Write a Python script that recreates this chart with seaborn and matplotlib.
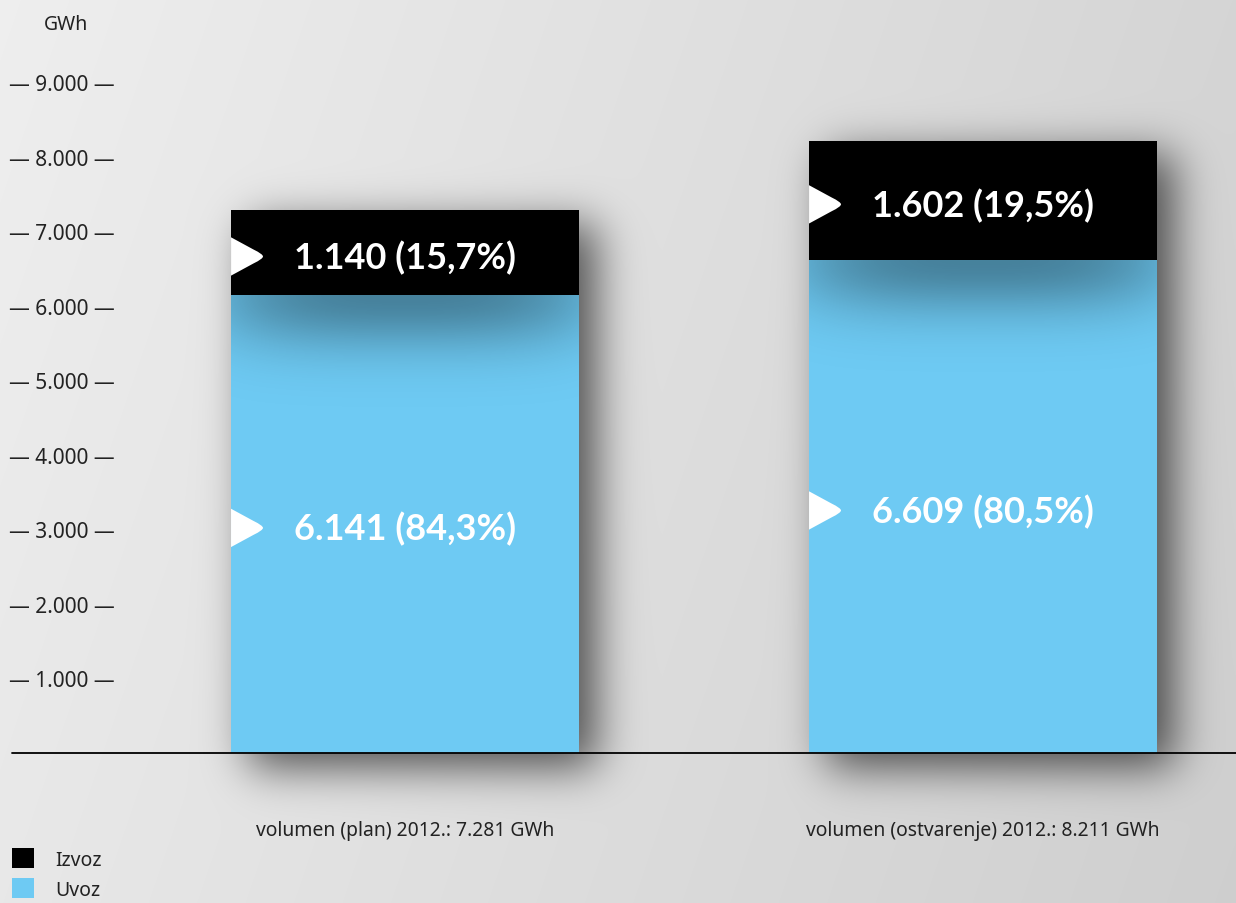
import matplotlib
matplotlib.use("Agg")
import matplotlib.pyplot as plt
from matplotlib.path import Path
import numpy as np
import pandas as pd
import seaborn as sns

# ── Data ──────────────────────────────────────────────────────────────────────
categories = ["plan", "ostvarenje"]
uvoz = [6141, 6609]
izvoz = [1140, 1602]
y_ticks = [1000, 2000, 3000, 4000, 5000, 6000, 7000, 8000, 9000]
legend_labels = ["Izvoz", "Uvoz"]

BLUE = "#6ecaf3"
BAR_W = 0.602
W, H = 1236, 904
Y_TOP = 10113
X_LIM = (-0.7007, 1.4377)


def fmt(v):
    return f"{v:,}".replace(",", ".")


def pct(v, t):
    return f"{100 * v / t:.1f}".replace(".", ",")


totals = [u + i for u, i in zip(uvoz, izvoz)]
x_labels = [f"volumen ({c}) 2012.: {fmt(t)} GWh" for c, t in zip(categories, totals)]
df = pd.DataFrame({"kat": x_labels, "total": totals, "uvoz": uvoz})

sns.set_theme(style="white")
plt.rcParams["font.family"] = ["Noto Sans", "DejaVu Sans"]

fig = plt.figure(figsize=(W / 100, H / 100), dpi=100)
ax = fig.add_axes([0, 150 / H, 1, 754 / H])
ax.set_facecolor("none")

# stacked bars: total in black, uvoz in blue on top of it
sns.barplot(data=df, x="kat", y="total", color="black", width=BAR_W, saturation=1,
            label=legend_labels[0], edgecolor="none", linewidth=0, ax=ax)
sns.barplot(data=df, x="kat", y="uvoz", color=BLUE, width=BAR_W, saturation=1,
            label=legend_labels[1], edgecolor="none", linewidth=0, ax=ax)
handles, labels = ax.get_legend_handles_labels()
if ax.get_legend() is not None:
    ax.get_legend().remove()

for s in ax.spines.values():
    s.set_visible(False)
ax.grid(False)
ax.set_xlabel("")
ax.set_ylabel("")
ax.set_yticks(y_ticks, [f"— {fmt(v)} —" for v in y_ticks])
ax.tick_params(axis="y", length=0, pad=-82.8, labelsize=15, labelcolor="#222222")
ax.tick_params(axis="x", length=0, pad=48, labelsize=13.9, labelcolor="#222222")
ax.axhline(0, xmin=12 / W, xmax=1, color="black", lw=1.3, clip_on=False, zorder=4)

# inner shadow of black segment on the blue part
FADE = 1500
ny, nx = 120, 200
t = np.linspace(0, 1, ny)[:, None]
u = np.linspace(0, 1, nx)[None, :]
alpha = 0.36 * np.exp(-0.5 * (3.0 * t) ** 2) * (1 - 0.55 * np.abs(2 * u - 1) ** 3)
shade = np.zeros((ny, nx, 4))
shade[..., 3] = alpha
for i, uv in enumerate(uvoz):
    ax.imshow(shade, extent=(i - BAR_W / 2, i + BAR_W / 2, uv - FADE, uv),
              aspect="auto", zorder=1.5, interpolation="bilinear")
ax.set_xlim(*X_LIM)
ax.set_ylim(0, Y_TOP)

# white arrow markers (left edge sits on the bar edge) + value labels
sh = -0.12
arrow = Path([(0, 0.6 + sh), (0.7, 0.22 + sh), (0.9, 0.12 + sh), (1, 0.05 + sh), (1, sh),
              (1, -0.05 + sh), (0.9, -0.12 + sh), (0.7, -0.22 + sh), (0, -0.6 + sh),
              (0, 0.6 + sh)],
             [Path.MOVETO, Path.LINETO, Path.CURVE4, Path.CURVE4, Path.CURVE4,
              Path.CURVE4, Path.CURVE4, Path.CURVE4, Path.LINETO, Path.CLOSEPOLY])
for i, (uv, iz, tot) in enumerate(zip(uvoz, izvoz, totals)):
    for mid, val in [(uv / 2, uv), (uv + iz / 2, iz)]:
        ax.scatter([i - BAR_W / 2], [mid], marker=arrow, s=2116, color="white",
                   edgecolors="none", linewidths=0, zorder=3)
        ax.annotate(f"{fmt(val)} ({pct(val, tot)}%)", xy=(i, mid), xytext=(0, -3),
                    textcoords="offset points", ha="center", va="center",
                    color="white", fontsize=26, fontweight="bold", family="Lato",
                    zorder=3)

fig.text(66 / W, 1 - 25 / H, "GWh", ha="center", va="center", fontsize=14, color="#222222")

fig.legend(handles, labels, loc="lower left", bbox_to_anchor=(12 / W, 3 / H),
           frameon=False, fontsize=14, handlelength=1.13, handleheight=1.2,
           labelspacing=0.45, handletextpad=1.1, borderpad=0, borderaxespad=0,
           labelcolor="#222222")

# ── Background gradient + drop shadow of the bars ─────────────────────────────
yy, xx = np.mgrid[0:H, 0:W]
bg = 0.935 - 0.10 * xx / W - 0.025 * yy / H
mask = np.zeros((H, W))
dx, dy = 18, 14
for i, tot in enumerate(totals):
    x0, y0 = ax.transData.transform((i - BAR_W / 2, 0))
    x1, y1 = ax.transData.transform((i + BAR_W / 2, tot))
    r0, r1 = int(H - y1) + dy, int(H - y0) + dy
    c0, c1 = int(x0) + dx, int(x1) + dx
    mask[max(r0, 0):min(r1, H), max(c0, 0):min(c1, W)] = 1
sig = 22
k = np.arange(-3 * sig, 3 * sig + 1)
kern = np.exp(-k ** 2 / (2 * sig ** 2))
kern /= kern.sum()
blur = np.apply_along_axis(np.convolve, 0, mask, kern, "same")
blur = np.apply_along_axis(np.convolve, 1, blur, kern, "same")
img = bg * (1 - 0.65 * blur)
img = np.clip(np.dstack([img, img, img]), 0, 1)
fig.figimage(img, xo=0, yo=0, origin="upper", zorder=-1)

fig.savefig("out.png", dpi=100)
